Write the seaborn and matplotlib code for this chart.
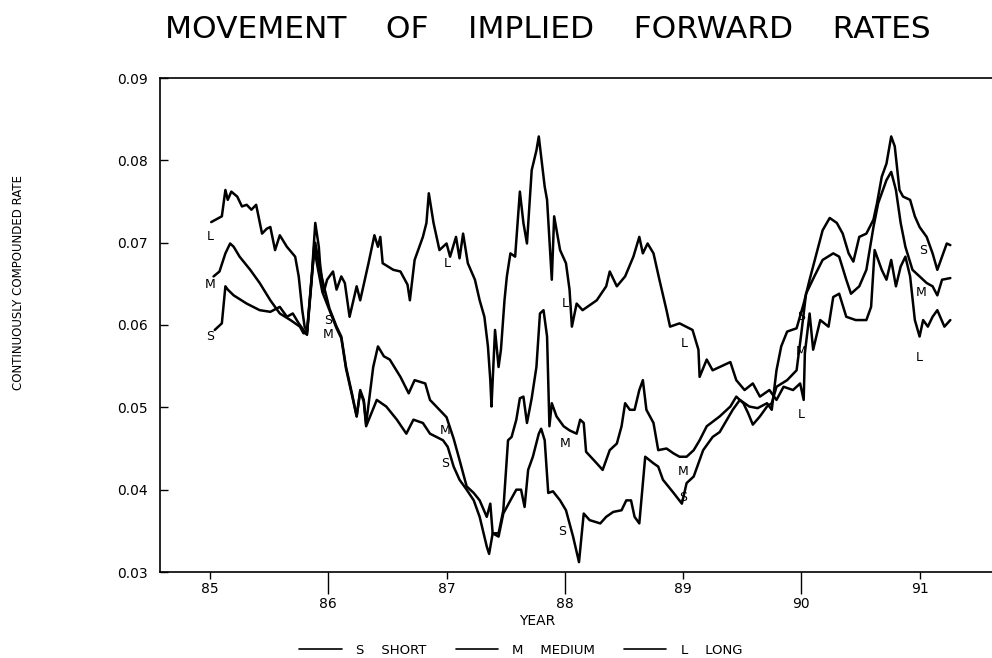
import matplotlib
matplotlib.use("Agg")
import matplotlib.pyplot as plt
import pandas as pd
import seaborn as sns
from matplotlib.lines import Line2D
from matplotlib.ticker import FormatStrFormatter

# Valores (ano, taxa continuamente composta)
anos_s = [85.04, 85.10, 85.13, 85.15, 85.20, 85.31, 85.42, 85.51, 85.59, 85.65,
          85.70, 85.75, 85.79, 85.82, 85.86, 85.88, 85.91, 85.95, 86.01, 86.07,
          86.11, 86.15, 86.20, 86.24, 86.27, 86.30, 86.32, 86.41, 86.49, 86.58,
          86.66, 86.72, 86.80, 86.86, 86.97, 87.01, 87.06, 87.11, 87.17, 87.23,
          87.28, 87.34, 87.36, 87.39, 87.44, 87.48, 87.54, 87.59, 87.63, 87.66,
          87.69, 87.73, 87.78, 87.80, 87.83, 87.86, 87.90, 87.96, 88.01, 88.07,
          88.12, 88.16, 88.21, 88.30, 88.35, 88.41, 88.48, 88.52, 88.56, 88.59,
          88.63, 88.68, 88.75, 88.79, 88.83, 88.92, 88.99, 89.03, 89.09, 89.17,
          89.25, 89.31, 89.42, 89.48, 89.56, 89.63, 89.71, 89.75, 89.79, 89.83,
          89.88, 89.96, 90.02, 90.07, 90.18, 90.24, 90.30, 90.35, 90.40, 90.44,
          90.49, 90.55, 90.61, 90.64, 90.68, 90.72, 90.76, 90.79, 90.83, 90.86,
          90.92, 90.96, 91.00, 91.06, 91.11, 91.15, 91.18, 91.23, 91.26]
taxa_s = [0.0594, 0.0602, 0.0647, 0.0643, 0.0636, 0.0626, 0.0618, 0.0616, 0.0622, 0.0610,
          0.0614, 0.0602, 0.0594, 0.0588, 0.0655, 0.0695, 0.0670, 0.0640, 0.0618, 0.0596,
          0.0584, 0.0547, 0.0515, 0.0489, 0.0519, 0.0507, 0.0477, 0.0509, 0.0501, 0.0485,
          0.0468, 0.0485, 0.0481, 0.0468, 0.0460, 0.0452, 0.0428, 0.0412, 0.0400, 0.0387,
          0.0367, 0.0331, 0.0322, 0.0347, 0.0343, 0.0371, 0.0387, 0.0400, 0.0400, 0.0379,
          0.0424, 0.0440, 0.0468, 0.0474, 0.0460, 0.0396, 0.0398, 0.0387, 0.0375, 0.0343,
          0.0312, 0.0371, 0.0363, 0.0359, 0.0367, 0.0373, 0.0375, 0.0387, 0.0387, 0.0367,
          0.0359, 0.0440, 0.0432, 0.0428, 0.0412, 0.0396, 0.0383, 0.0408, 0.0416, 0.0448,
          0.0464, 0.0470, 0.0497, 0.0509, 0.0501, 0.0499, 0.0505, 0.0497, 0.0545, 0.0574,
          0.0592, 0.0596, 0.0626, 0.0655, 0.0715, 0.0730, 0.0724, 0.0711, 0.0687, 0.0677,
          0.0707, 0.0711, 0.0728, 0.0748, 0.0780, 0.0796, 0.0829, 0.0817, 0.0764, 0.0756,
          0.0752, 0.0732, 0.0719, 0.0707, 0.0687, 0.0667, 0.0679, 0.0699, 0.0697]

anos_m = [85.03, 85.08, 85.13, 85.17, 85.20, 85.25, 85.34, 85.42, 85.51, 85.59,
          85.68, 85.76, 85.79, 85.82, 85.86, 85.89, 85.93, 85.97, 86.01, 86.07,
          86.11, 86.15, 86.20, 86.24, 86.27, 86.30, 86.32, 86.38, 86.42, 86.47,
          86.52, 86.61, 86.68, 86.73, 86.82, 86.86, 86.94, 87.00, 87.06, 87.11,
          87.17, 87.23, 87.28, 87.34, 87.37, 87.39, 87.44, 87.48, 87.52, 87.55,
          87.59, 87.62, 87.65, 87.68, 87.72, 87.76, 87.79, 87.82, 87.85, 87.87,
          87.89, 87.93, 87.99, 88.04, 88.10, 88.13, 88.16, 88.18, 88.27, 88.32,
          88.38, 88.44, 88.48, 88.51, 88.55, 88.59, 88.63, 88.66, 88.69, 88.75,
          88.79, 88.86, 88.92, 88.97, 89.03, 89.09, 89.14, 89.20, 89.31, 89.40,
          89.45, 89.51, 89.55, 89.59, 89.65, 89.71, 89.75, 89.79, 89.88, 89.96,
          90.00, 90.04, 90.11, 90.18, 90.27, 90.32, 90.38, 90.42, 90.49, 90.55,
          90.61, 90.65, 90.72, 90.76, 90.80, 90.84, 90.88, 90.94, 91.00, 91.06,
          91.11, 91.15, 91.19, 91.26]
taxa_m = [0.0659, 0.0665, 0.0687, 0.0699, 0.0695, 0.0683, 0.0667, 0.0651, 0.0630, 0.0614,
          0.0606, 0.0598, 0.0590, 0.0590, 0.0659, 0.0700, 0.0667, 0.0643, 0.0620, 0.0598,
          0.0586, 0.0549, 0.0517, 0.0489, 0.0521, 0.0509, 0.0480, 0.0549, 0.0574, 0.0562,
          0.0558, 0.0537, 0.0517, 0.0533, 0.0529, 0.0509, 0.0497, 0.0488, 0.0462, 0.0436,
          0.0404, 0.0396, 0.0387, 0.0367, 0.0383, 0.0347, 0.0347, 0.0375, 0.0460, 0.0464,
          0.0485, 0.0511, 0.0513, 0.0481, 0.0511, 0.0549, 0.0614, 0.0618, 0.0586, 0.0477,
          0.0505, 0.0489, 0.0477, 0.0472, 0.0468, 0.0485, 0.0481, 0.0446, 0.0432, 0.0424,
          0.0448, 0.0456, 0.0477, 0.0505, 0.0497, 0.0497, 0.0521, 0.0533, 0.0497, 0.0481,
          0.0448, 0.0450, 0.0444, 0.0440, 0.0440, 0.0448, 0.0460, 0.0477, 0.0489, 0.0501,
          0.0513, 0.0505, 0.0493, 0.0479, 0.0489, 0.0501, 0.0505, 0.0525, 0.0533, 0.0545,
          0.0590, 0.0638, 0.0659, 0.0679, 0.0687, 0.0683, 0.0655, 0.0638, 0.0647, 0.0667,
          0.0719, 0.0748, 0.0776, 0.0786, 0.0764, 0.0724, 0.0695, 0.0667, 0.0659, 0.0651,
          0.0647, 0.0636, 0.0655, 0.0657]

anos_l = [85.01, 85.10, 85.13, 85.15, 85.18, 85.23, 85.27, 85.31, 85.35, 85.39,
          85.44, 85.48, 85.51, 85.55, 85.59, 85.65, 85.72, 85.75, 85.78, 85.80,
          85.82, 85.86, 85.89, 85.92, 85.93, 85.96, 85.99, 86.04, 86.07, 86.11,
          86.14, 86.18, 86.24, 86.27, 86.34, 86.39, 86.42, 86.44, 86.46, 86.55,
          86.61, 86.67, 86.69, 86.73, 86.80, 86.83, 86.85, 86.89, 86.94, 87.00,
          87.03, 87.08, 87.11, 87.14, 87.18, 87.24, 87.28, 87.32, 87.35, 87.37,
          87.38, 87.41, 87.44, 87.46, 87.49, 87.51, 87.54, 87.58, 87.62, 87.65,
          87.68, 87.72, 87.76, 87.78, 87.80, 87.83, 87.85, 87.89, 87.91, 87.96,
          88.01, 88.04, 88.06, 88.10, 88.15, 88.27, 88.35, 88.38, 88.44, 88.51,
          88.58, 88.63, 88.66, 88.70, 88.75, 88.80, 88.86, 88.89, 88.97, 89.08,
          89.13, 89.14, 89.20, 89.25, 89.31, 89.40, 89.45, 89.52, 89.59, 89.65,
          89.73, 89.79, 89.85, 89.93, 89.99, 90.02, 90.03, 90.07, 90.10, 90.16,
          90.23, 90.27, 90.32, 90.38, 90.46, 90.55, 90.59, 90.62, 90.68, 90.72,
          90.76, 90.80, 90.84, 90.88, 90.92, 90.96, 91.00, 91.03, 91.07, 91.11,
          91.15, 91.21, 91.26]
taxa_l = [0.0725, 0.0732, 0.0764, 0.0752, 0.0762, 0.0756, 0.0744, 0.0746, 0.0740, 0.0746,
          0.0711, 0.0717, 0.0719, 0.0691, 0.0709, 0.0695, 0.0683, 0.0659, 0.0618, 0.0598,
          0.0592, 0.0659, 0.0724, 0.0695, 0.0675, 0.0639, 0.0655, 0.0665, 0.0643, 0.0659,
          0.0651, 0.0610, 0.0647, 0.0630, 0.0675, 0.0709, 0.0695, 0.0707, 0.0675, 0.0667,
          0.0665, 0.0649, 0.0630, 0.0679, 0.0707, 0.0724, 0.0760, 0.0724, 0.0691, 0.0699,
          0.0683, 0.0707, 0.0681, 0.0711, 0.0675, 0.0655, 0.0630, 0.0610, 0.0574, 0.0533,
          0.0501, 0.0594, 0.0549, 0.0570, 0.0630, 0.0659, 0.0687, 0.0683, 0.0762, 0.0724,
          0.0699, 0.0788, 0.0812, 0.0829, 0.0805, 0.0768, 0.0752, 0.0655, 0.0732, 0.0691,
          0.0675, 0.0643, 0.0598, 0.0626, 0.0618, 0.0630, 0.0647, 0.0665, 0.0647, 0.0659,
          0.0683, 0.0707, 0.0687, 0.0699, 0.0687, 0.0655, 0.0618, 0.0598, 0.0602, 0.0594,
          0.0570, 0.0537, 0.0558, 0.0545, 0.0549, 0.0555, 0.0533, 0.0521, 0.0529, 0.0513,
          0.0521, 0.0509, 0.0525, 0.0521, 0.0529, 0.0509, 0.0566, 0.0614, 0.0570, 0.0606,
          0.0598, 0.0634, 0.0638, 0.0610, 0.0606, 0.0606, 0.0622, 0.0691, 0.0667, 0.0655,
          0.0679, 0.0647, 0.0671, 0.0683, 0.0659, 0.0606, 0.0586, 0.0606, 0.0598, 0.0610,
          0.0618, 0.0598, 0.0606]

# Letras de identificacao sobre as curvas
letras = ["L", "M", "S", "S", "M", "L", "M", "S", "L", "M", "S", "L", "M", "S",
          "L", "S", "M", "S", "M", "L"]
letras_ano = [85.0, 85.0, 85.0, 86.0, 86.0, 87.01, 86.99, 86.99, 88.0, 88.0, 87.98,
              89.01, 89.0, 89.0, 90.0, 90.0, 90.0, 91.03, 91.01, 91.0]
letras_taxa = [0.0707, 0.0649, 0.0586, 0.0606, 0.0589, 0.0675, 0.0472, 0.0432, 0.0626,
               0.0456, 0.0349, 0.0578, 0.0422, 0.0391, 0.0491, 0.0610, 0.0568, 0.0691,
               0.0639, 0.0560]

anos_ticks = [85, 86, 87, 88, 89, 90, 91]
taxas_ticks = [0.03, 0.04, 0.05, 0.06, 0.07, 0.08, 0.09]
legenda = ["S    SHORT", "M    MEDIUM", "L    LONG"]

sns.set_style("ticks")
plt.rcParams["font.family"] = ["DejaVu Sans"]
plt.rcParams["text.color"] = "black"
plt.rcParams["axes.labelcolor"] = "black"
plt.rcParams["xtick.color"] = "black"
plt.rcParams["ytick.color"] = "black"
plt.rcParams["axes.edgecolor"] = "black"

dados = pd.concat([
    pd.DataFrame({"ano": anos_s, "taxa": taxa_s, "serie": "S"}),
    pd.DataFrame({"ano": anos_m, "taxa": taxa_m, "serie": "M"}),
    pd.DataFrame({"ano": anos_l, "taxa": taxa_l, "serie": "L"}),
])

fig = plt.figure(figsize=(9.92, 6.58), dpi=100)
ax = fig.add_axes([160 / 992, 86 / 658, 840 / 992, 494 / 658])

sns.lineplot(
    data=dados,
    x="ano",
    y="taxa",
    units="serie",
    estimator=None,
    sort=False,
    color="black",
    linewidth=1.8,
    legend=False,
    ax=ax
)

for letra, xa, ya in zip(letras, letras_ano, letras_taxa):
    ax.text(xa, ya, letra, ha="center", va="center", fontsize=9, color="black")

ax.set_xlim(84.577, 91.68)
ax.set_ylim(0.03, 0.09)

impares = [a for a in anos_ticks if a % 2 == 1]
pares = [a for a in anos_ticks if a % 2 == 0]
ax.set_xticks(impares, labels=[str(a) for a in impares])
ax.set_xticks(pares, labels=[str(a) for a in pares], minor=True)
ax.tick_params(axis="x", which="major", direction="out", length=5, width=1,
               pad=2, labelsize=10)
ax.tick_params(axis="x", which="minor", direction="out", length=16, width=1,
               pad=2, labelsize=10)

ax.set_yticks(taxas_ticks)
ax.yaxis.set_major_formatter(FormatStrFormatter("%.2f"))
ax.tick_params(axis="y", direction="in", length=6, width=1, pad=9, labelsize=10)

for lado in ["left", "bottom", "top"]:
    ax.spines[lado].set_linewidth(1.2)
ax.spines["right"].set_visible(False)

ax.set_xlabel("YEAR", fontsize=10)
ax.xaxis.set_label_coords((537 - 160) / 840, (572 - 614) / 494)
ax.set_ylabel("CONTINUOUSLY COMPOUNDED RATE", fontsize=8.5)
ax.yaxis.set_label_coords((25 - 160) / 840, (572 - 282) / 494)

fig.text(548 / 992, 1 - 30 / 658, "MOVEMENT    OF    IMPLIED    FORWARD    RATES",
         ha="center", va="center", fontsize=22.5)

linhas = [Line2D([0], [0], color="black", linewidth=1.2) for _ in legenda]
fig.legend(
    linhas, legenda,
    loc="center",
    bbox_to_anchor=(521 / 992, 1 - 650 / 658),
    ncol=3,
    frameon=False,
    fontsize=9.5,
    handlelength=3.2,
    handletextpad=1.1,
    columnspacing=2.2
)

fig.savefig("out.png", dpi=100)
plt.close(fig)
